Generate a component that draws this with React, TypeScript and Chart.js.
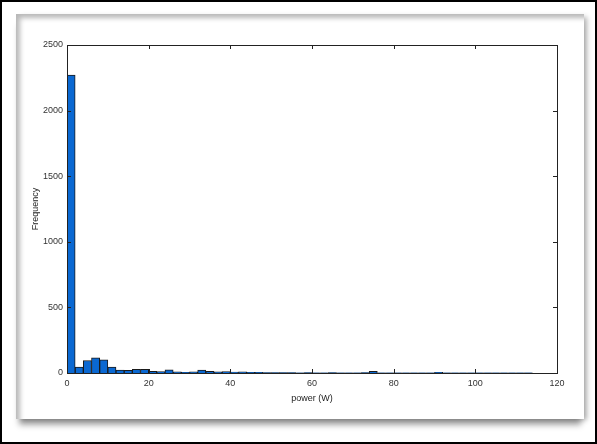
import React, { useEffect, useRef } from "react";
import { Chart, registerables } from "chart.js";

Chart.register(...registerables);

// Histogram bin centres (W) and counts
const binCenters = [
  1, 3, 5, 7, 9, 11, 13, 15, 17, 19, 21, 23, 25, 27, 29, 31, 33, 35, 37, 39,
  41, 43, 45, 47, 49, 51, 53, 55, 57, 59, 61, 63, 65, 67, 69, 71, 73, 75, 77, 79,
  81, 83, 85, 87, 89, 91, 93, 95, 97, 99, 101, 103, 105, 107, 109, 111, 113,
];
const counts = [
  2270, 45, 95, 115, 100, 45, 22, 20, 28, 28, 12, 10, 25, 8, 6, 8, 22, 12, 8, 10,
  7, 8, 6, 5, 4, 3, 3, 4, 2, 3, 2, 2, 3, 2, 2, 1, 3, 12, 2, 1,
  1, 2, 1, 1, 2, 5, 1, 1, 1, 1, 2, 1, 1, 1, 1, 1, 1,
];
const xTickValues = [0, 20, 40, 60, 80, 100, 120];
const yTickValues = [0, 500, 1000, 1500, 2000, 2500];
const xTitle = "power (W)";
const yTitle = "Frequency";

const boxPlugin = {
  id: "boxTicks",
  afterDraw(chart: any) {
    const { ctx, chartArea } = chart;
    const { left, right, top, bottom } = chartArea;
    const xs = chart.scales.x;
    const ys = chart.scales.y;
    ctx.save();
    ctx.strokeStyle = "#222";
    ctx.lineWidth = 1;
    ctx.beginPath();
    xTickValues.forEach((v) => {
      const p = Math.round(xs.getPixelForValue(v)) + 0.5;
      if (v === xTickValues[0] || v === xTickValues[xTickValues.length - 1]) return;
      ctx.moveTo(p, bottom);
      ctx.lineTo(p, bottom - 4);
      ctx.moveTo(p, top);
      ctx.lineTo(p, top + 4);
    });
    yTickValues.forEach((v) => {
      const p = Math.round(ys.getPixelForValue(v)) + 0.5;
      if (v === yTickValues[0] || v === yTickValues[yTickValues.length - 1]) return;
      ctx.moveTo(left, p);
      ctx.lineTo(left + 4, p);
      ctx.moveTo(right, p);
      ctx.lineTo(right - 4, p);
    });
    ctx.stroke();
    ctx.strokeRect(Math.round(left) + 0.5, Math.round(top) + 0.5, Math.round(right - left), Math.round(bottom - top));
    ctx.restore();
  },
};

export default function App() {
  const ref = useRef<HTMLCanvasElement>(null);
  useEffect(() => {
    document.body.style.margin = "0";
    const chart = new Chart(ref.current!, {
      type: "bar",
      data: {
        datasets: [
          {
            data: binCenters.map((x, i) => ({ x, y: counts[i] })),
            backgroundColor: "#0a68d2",
            borderColor: "#1a1a1a",
            borderWidth: 1,
            barPercentage: 1,
            categoryPercentage: 1,
          },
        ],
      },
      options: {
        responsive: false,
        animation: false,
        layout: { padding: { left: 30, top: 45, right: 40, bottom: 40 } },
        plugins: { legend: { display: false }, tooltip: { enabled: false } },
        scales: {
          x: {
            type: "linear",
            min: 0,
            max: 120,
            offset: false,
            afterBuildTicks: (s: any) => {
              s.ticks = xTickValues.map((v) => ({ value: v }));
            },
            afterFit: (s: any) => {
              s.height = 31;
            },
            grid: { display: false, drawTicks: false, offset: false },
            border: { display: false },
            ticks: {
              padding: 5,
              color: "#333",
              font: { family: "Liberation Sans", size: 9 },
              maxRotation: 0,
              callback: (v: any) => String(v),
            },
            title: { display: true, text: xTitle, color: "#222", font: { family: "Liberation Sans", size: 9 }, padding: { top: 1, bottom: 0 } },
          },
          y: {
            type: "linear",
            min: 0,
            max: 2500,
            afterBuildTicks: (s: any) => {
              s.ticks = yTickValues.map((v) => ({ value: v }));
            },
            afterFit: (s: any) => {
              s.width = 37;
            },
            grid: { display: false, drawTicks: false },
            border: { display: false },
            ticks: { padding: 4, color: "#333", font: { family: "Liberation Sans", size: 9 }, callback: (v: any) => String(v) },
            title: { display: true, text: yTitle, color: "#222", font: { family: "Liberation Sans", size: 9 }, padding: { top: 0, bottom: 0 } },
          },
        },
      },
      plugins: [boxPlugin],
    } as any);
    return () => chart.destroy();
  }, []);

  return (
    <div
      style={{
        position: "fixed",
        left: 0,
        top: 0,
        width: 597,
        height: 444,
        boxSizing: "border-box",
        border: "2px solid #000",
        background: "#fff",
        overflow: "hidden",
      }}
    >
      <div
        style={{
          position: "absolute",
          left: 14,
          top: 12,
          width: 568,
          height: 405,
          background: "#fff",
          boxShadow:
            "inset 6px 6px 5px -2px rgba(0,0,0,0.28), 0 9px 6px -3px rgba(0,0,0,0.35), 4px 2px 5px -1px rgba(0,0,0,0.3)",
        }}
      />
      <canvas
        ref={ref}
        width={597}
        height={444}
        style={{ position: "absolute", left: -2, top: -2, width: 597, height: 444 }}
      />
    </div>
  );
}
